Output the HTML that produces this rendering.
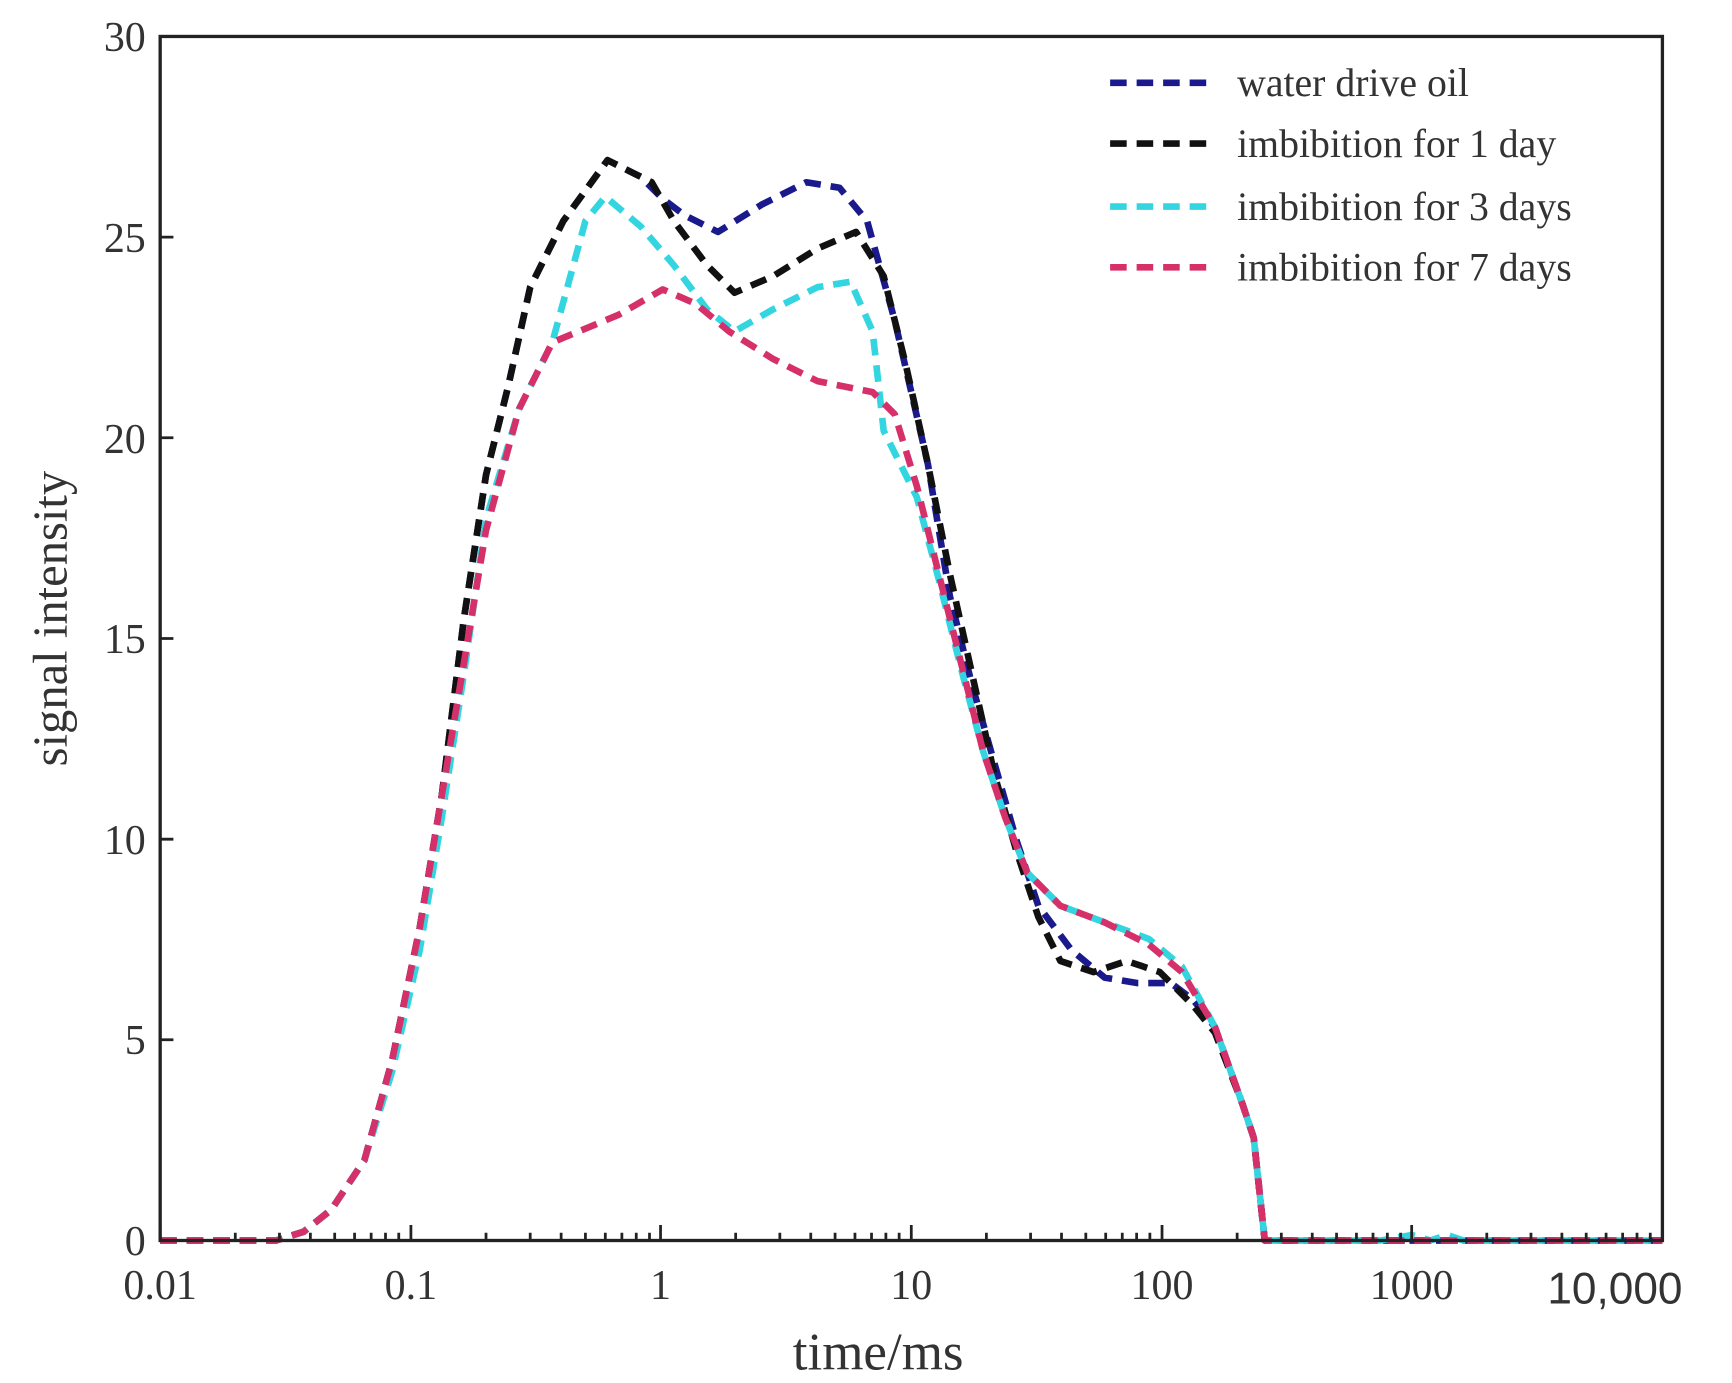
<!DOCTYPE html>
<html><head><meta charset="utf-8"><style>html,body{margin:0;padding:0;background:#fff;}svg{display:block}</style></head>
<body>
<svg width="1732" height="1383" viewBox="0 0 1568 1252" preserveAspectRatio="none" xmlns="http://www.w3.org/2000/svg">
<rect x="0" y="0" width="1568" height="1252" fill="#fff"/>
<g fill="none" stroke-width="6" stroke-dasharray="15 9" stroke-linejoin="round" stroke-linecap="butt">
<polyline stroke="#1a1a8c" points="145,1123 250,1123 275,1115 300,1095 330,1050 355,960 380,840 400,720 420,560 440,430 460,350 480,260 510,200 550,145 580,160 600,180 620,195 650,210 690,185 730,165 760,170 785,200 810,290 840,420 860,540 880,620 900,690 920,760 940,820 970,860 1000,885 1030,890 1060,890 1080,905 1100,930 1125,1000 1135,1030 1145,1123 1505,1123"/>
<polyline stroke="#111" points="145,1123 250,1123 275,1115 300,1095 330,1050 355,960 380,840 400,720 420,560 440,430 460,350 480,260 510,200 550,145 590,165 610,200 640,240 665,265 700,250 740,225 775,210 800,250 820,330 840,420 860,520 880,610 900,700 920,770 940,830 960,870 990,880 1020,870 1050,880 1080,910 1100,935 1125,1000 1135,1030 1145,1123 1505,1123"/>
<polyline stroke="#33d6e0" points="145,1123 250,1123 275,1115 300,1095 330,1050 355,970 380,860 400,740 420,610 440,470 470,370 500,310 530,200 548,178 580,205 610,240 640,280 665,300 700,280 740,260 770,255 790,300 800,390 830,450 850,525 870,605 890,680 910,740 930,790 960,820 1000,835 1040,850 1070,875 1100,930 1125,1000 1135,1030 1145,1123 1250,1123 1278,1118 1295,1123 1310,1118 1325,1123 1505,1123"/>
<polyline stroke="#d6306a" points="145,1123 250,1123 275,1115 300,1095 330,1050 355,960 380,840 400,720 420,600 440,480 470,370 500,310 560,285 600,262 630,275 660,300 700,325 740,345 790,355 810,375 830,440 850,520 870,600 890,680 910,740 930,790 960,820 1000,835 1040,855 1070,880 1100,930 1125,1000 1135,1030 1145,1123 1505,1123"/>
</g>
<rect x="145" y="33" width="1360" height="1090" fill="none" stroke="#222" stroke-width="3"/>
<g stroke="#222" stroke-width="2.5">
<path d="M145,1123v-14M372,1123v-14M598,1123v-14M825,1123v-14M1052,1123v-14M1278,1123v-14M1505,1123v-14"/>
<path id="mn" d="M213,1123v-7M253,1123v-7M281,1123v-7M303,1123v-7M321,1123v-7M336,1123v-7M349,1123v-7M361,1123v-7"/>
<use href="#mn" x="227"/><use href="#mn" x="453"/><use href="#mn" x="680"/><use href="#mn" x="907"/><use href="#mn" x="1133"/>
<path d="M145,33h12M145,214.7h12M145,396.3h12M145,578h12M145,759.7h12M145,941.3h12M145,1123h12"/>
</g>
<g font-family="'Liberation Serif',serif" font-size="38" fill="#333" text-anchor="end">
<text x="132" y="46">30</text><text x="132" y="228">25</text><text x="132" y="410">20</text><text x="132" y="591">15</text><text x="132" y="773">10</text><text x="132" y="954">5</text><text x="132" y="1136">0</text>
</g>
<g font-family="'Liberation Serif',serif" font-size="38" fill="#333" text-anchor="middle">
<text x="145" y="1176">0.01</text><text x="372" y="1176">0.1</text><text x="598" y="1176">1</text><text x="825" y="1176">10</text><text x="1052" y="1176">100</text><text x="1278" y="1176">1000</text>
</g>
<text x="1462" y="1180" font-family="'Liberation Sans',sans-serif" font-size="40" fill="#333" text-anchor="middle">10,000</text>
<text x="795" y="1240" font-family="'Liberation Serif',serif" font-size="48" fill="#333" text-anchor="middle">time/ms</text>
<text transform="translate(60,560) rotate(-90)" font-family="'Liberation Serif',serif" font-size="44" fill="#333" text-anchor="middle">signal intensity</text>
<g stroke-width="6" stroke-dasharray="15 9">
<line x1="1005" y1="75" x2="1095" y2="75" stroke="#1a1a8c"/>
<line x1="1005" y1="130" x2="1095" y2="130" stroke="#111"/>
<line x1="1005" y1="187" x2="1095" y2="187" stroke="#33d6e0"/>
<line x1="1005" y1="242" x2="1095" y2="242" stroke="#d6306a"/>
</g>
<g font-family="'Liberation Serif',serif" font-size="36" fill="#333">
<text x="1120" y="87">water drive oil</text>
<text x="1120" y="142">imbibition for 1 day</text>
<text x="1120" y="199">imbibition for 3 days</text>
<text x="1120" y="254">imbibition for 7 days</text>
</g>
</svg>
</body></html>
